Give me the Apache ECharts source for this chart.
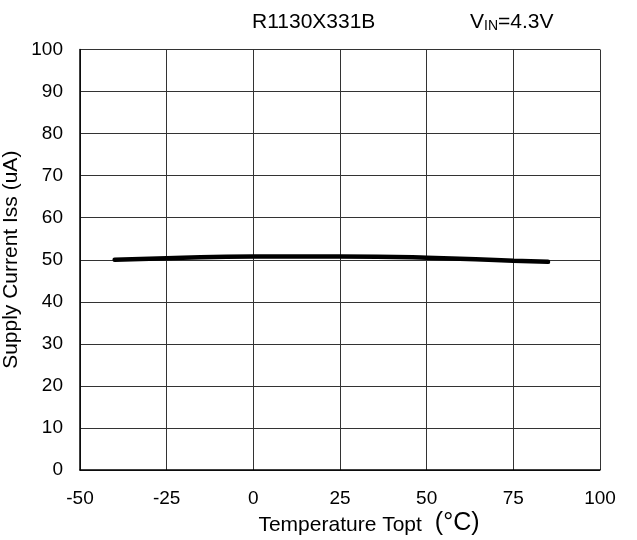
<!DOCTYPE html>
<html><head><meta charset="utf-8">
<script src="https://cdn.jsdelivr.net/npm/echarts@6/dist/echarts.min.js"></script>
<style>html,body{margin:0;padding:0;background:#fff}#c{width:637px;height:540px}</style>
</head><body><div id="c"></div>
<script>
const temps = [-40, -25, 0, 25, 50, 75, 85];
const current = [50.0, 50.35, 50.8, 50.8, 50.5, 49.75, 49.5];
const xTicks = [-50, -25, 0, 25, 50, 75, 100];
const yTicks = [0, 10, 20, 30, 40, 50, 60, 70, 80, 90, 100];
const FONT = 'Liberation Sans, Arial, sans-serif';
const chart = echarts.init(document.getElementById('c'));
chart.setOption({
  animation: false,
  grid: {left: 80, right: 37, top: 49.5, bottom: 70, containLabel: false, outerBoundsMode: 'none'},
  title: [
    {text: 'R1130X331B', left: 252, top: 12, padding: 0,
     textStyle: {fontFamily: FONT, fontSize: 21, fontWeight: 'normal', color: '#000'}},
    {text: '{a|V}{b|IN}{a|=4.3V}', left: 470, top: 12, padding: 0,
     textStyle: {fontWeight: 'normal', rich: {
      a: {fontFamily: FONT, fontSize: 21, fontWeight: 'normal', color: '#000', verticalAlign: 'bottom'},
      b: {fontFamily: FONT, fontSize: 14, fontWeight: 'normal', color: '#000', verticalAlign: 'bottom'}
    }}}
  ],
  xAxis: {
    type: 'value', min: -50, max: 100, interval: 25,
    name: '{p|}{t|Temperature Topt}{s|}{c|(°C)}', nameLocation: 'middle', nameGap: 41,
    nameMoveOverlap: false,
    nameTextStyle: {rich: {
      p: {width: 58},
      s: {width: 13},
      t: {fontFamily: FONT, fontSize: 21, color: '#000', verticalAlign: 'bottom'},
      c: {fontFamily: FONT, fontSize: 25, color: '#000', verticalAlign: 'bottom'}
    }},
    axisLine: {onZero: false, lineStyle: {color: '#000', width: 1.5}},
    axisTick: {show: false},
    axisLabel: {fontFamily: FONT, fontSize: 19, color: '#000', margin: 19,
      formatter: v => xTicks.includes(v) ? String(v) : ''},
    splitLine: {show: true, lineStyle: {color: '#333', width: 1}}
  },
  yAxis: {
    type: 'value', min: 0, max: 100, interval: 10,
    name: 'Supply Current Iss (uA)', nameLocation: 'middle', nameGap: 58,
    nameMoveOverlap: false,
    nameTextStyle: {fontFamily: FONT, fontSize: 21, color: '#000'},
    axisLine: {show: true, onZero: false, lineStyle: {color: '#000', width: 1.5}},
    axisTick: {show: false},
    axisLabel: {fontFamily: FONT, fontSize: 19, color: '#000', margin: 17,
      formatter: v => yTicks.includes(v) ? String(v) : ''},
    splitLine: {show: true, lineStyle: {color: '#333', width: 1}}
  },
  series: [{
    type: 'line', smooth: true, symbol: 'none',
    data: temps.map((t, i) => [t, current[i]]),
    lineStyle: {color: '#000', width: 4.5, cap: 'round'}
  }]
});
</script></body></html>
